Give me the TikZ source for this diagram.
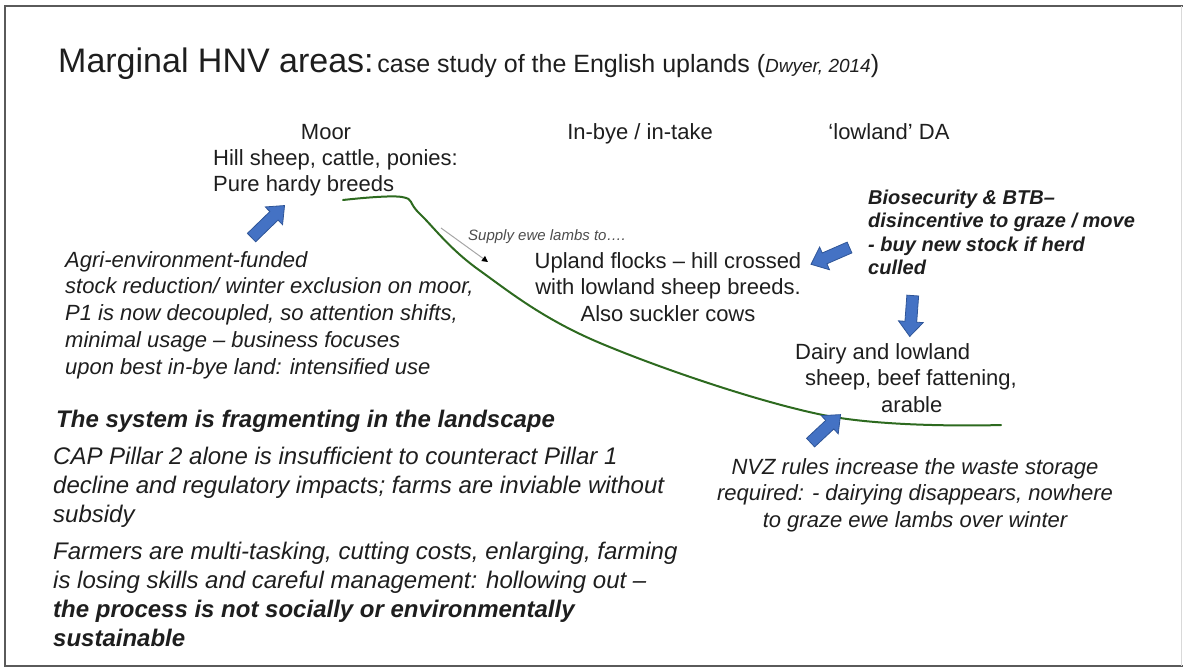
\documentclass[tikz,border=0pt]{standalone}
\usepackage{fontspec}
\setmainfont{Liberation Sans}
\usetikzlibrary{shapes.arrows, arrows.meta}

\definecolor{txt}{HTML}{1E1E1E}
\definecolor{arrowblue}{HTML}{4472C4}
\definecolor{arrowedge}{HTML}{2F5597}
\definecolor{hill}{HTML}{2D6A1F}
\definecolor{framegray}{HTML}{5A5A5A}

\begin{document}
\begin{tikzpicture}[x=1pt, y={(0pt,-1pt)},
    every node/.style={inner sep=0pt, text=txt},
    plain/.style={font=\fontsize{22}{26.5}\selectfont},
    slanted/.style={font=\fontsize{22}{26.75}\selectfont\itshape},
    bigslanted/.style={font=\fontsize{24}{29}\selectfont\itshape},
    bluearrow/.style={single arrow, draw=arrowedge, fill=arrowblue, line width=0.8pt,
      text height=11pt, text depth=0pt, single arrow head extend=6.5pt,
      single arrow tip angle=80, sloped, allow upside down, midway},
    hillline/.style={draw=hill, line width=2pt, line cap=round},
    supplyarrow/.style={draw=gray!70, line width=1pt, -{Triangle[length=6pt, width=6pt, color=black]}}]
  \useasboundingbox (0,0) rectangle (1183,670);

  % frame
  \draw[framegray, line width=2.5pt] (1183,6) -- (5,6) -- (5,666) -- (1183,666);
  \draw[gray!30, line width=1pt] (1181,6) -- (1181,666);

  % title
  \node[anchor=base west] (title) at (58,72)
    {{\fontsize{34}{40}\selectfont Marginal HNV areas:} {\fontsize{25}{30}\selectfont case study of the English uplands (\textit{\fontsize{19}{23}\selectfont Dwyer, 2014})}};

  % column heads
  \node[plain, anchor=base] (moor) at (326,139) {Moor};
  \node[plain, anchor=base] (inbye) at (640,139) {In-bye / in-take};
  \node[plain, anchor=base] (lowland) at (889,139) {`lowland' DA};

  \node[plain, anchor=north west, align=left] (moorstock) at (213,149)
    {Hill sheep, cattle, ponies:\\Pure hardy breeds};
  \node[plain, anchor=north, align=center] (upland) at (668,252)
    {Upland flocks -- hill crossed\\with lowland sheep breeds.\\Also suckler cows};
  \node[plain, anchor=north west, align=left] (dairy) at (795,343)
    {Dairy and lowland\\\hspace*{10pt}sheep, beef fattening,\\\hspace*{86pt}arable};

  % pressures
  \node[slanted, anchor=north west, align=left] (agri) at (65,251)
    {Agri-environment-funded\\stock reduction/ winter exclusion on moor,\\P1 is now decoupled, so attention shifts,\\minimal usage -- business focuses\\upon best in-bye land: intensified use};
  \node[font=\fontsize{20}{23.3}\selectfont\bfseries\itshape, anchor=north west, align=left] (bio) at (868,190)
    {Biosecurity \& BTB--\\disincentive to graze / move\\- buy new stock if herd\\culled};
  \node[slanted, anchor=north, align=center] (nvz) at (915,458)
    {NVZ rules increase the waste storage\\required: - dairying disappears, nowhere\\to graze ewe lambs over winter};
  \node[font=\fontsize{15}{18}\selectfont\itshape, text=black!70, anchor=base west] (supply) at (468,240)
    {Supply ewe lambs to….};

  % conclusions
  \node[font=\fontsize{24}{29}\selectfont\bfseries\itshape, anchor=base west] (fragment) at (56,427)
    {The system is fragmenting in the landscape};
  \node[bigslanted, anchor=north west, align=left] (cap) at (53,447)
    {CAP Pillar 2 alone is insufficient to counteract Pillar 1\\decline and regulatory impacts; farms are inviable without\\subsidy};
  \node[bigslanted, anchor=north west, align=left] (farmers) at (53,542)
    {Farmers are multi-tasking, cutting costs, enlarging, farming\\is losing skills and careful management: hollowing out --\\\textbf{the process is not socially or environmentally}\\\textbf{sustainable}};

  % landscape profile
  \draw[hillline] plot[smooth, tension=0.6] coordinates
    {(343,200) (402,197) (420,214) (479,270) (600,343) (823,415) (1001,425)};

  % supply arrow
  \coordinate (s1) at (441,228);
  \coordinate (s2) at (488,262);
  \draw[supplyarrow] (s1) -- (s2);

  % block arrows
  \coordinate (a1t) at (249,240); \coordinate (a1h) at (282,208);
  \coordinate (a2t) at (853,246); \coordinate (a2h) at (814,263);
  \coordinate (a3t) at (913,292); \coordinate (a3h) at (910,333);
  \coordinate (a4t) at (808,445); \coordinate (a4h) at (838,417);
  \path (a1t) -- (a1h) node[bluearrow, minimum height=46pt] {};
  \path (a2t) -- (a2h) node[bluearrow, minimum height=42pt] {};
  \path (a3t) -- (a3h) node[bluearrow, minimum height=41pt] {};
  \path (a4t) -- (a4h) node[bluearrow, minimum height=41pt] {};
\end{tikzpicture}
\end{document}
